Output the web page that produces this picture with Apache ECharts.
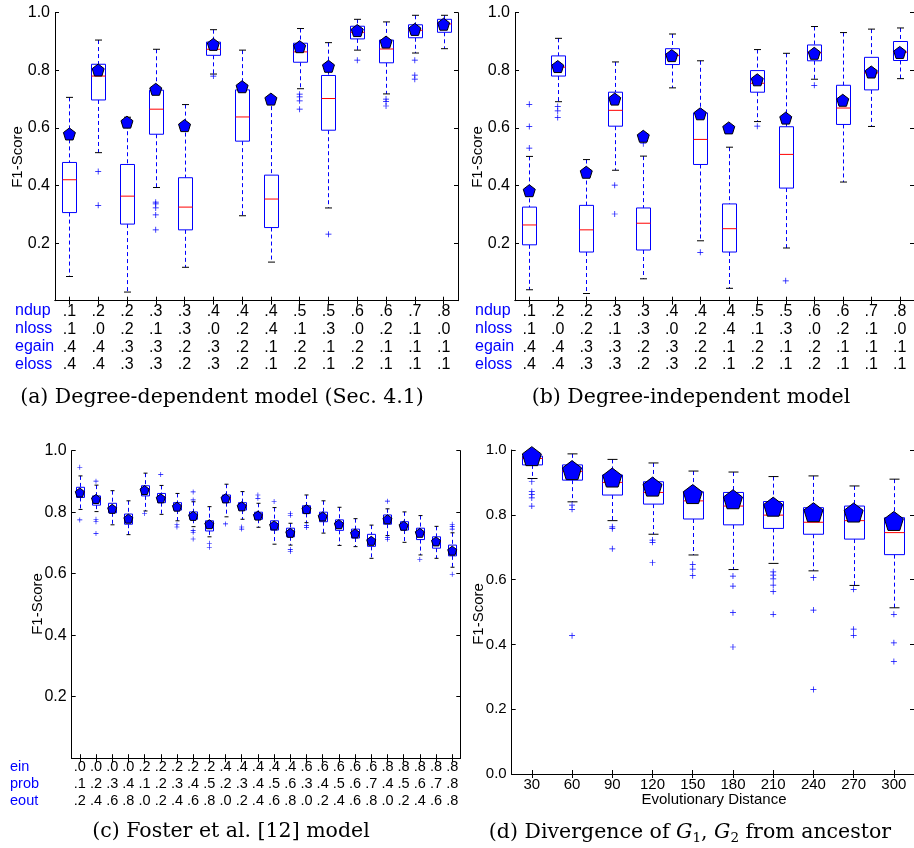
<!DOCTYPE html>
<html><head><meta charset="utf-8">
<script src="https://cdn.jsdelivr.net/npm/echarts@6/dist/echarts.min.js"></script>
<style>html,body{margin:0;padding:0;background:#fff}#c{width:914px;height:848px}</style>
</head><body><div id="c"></div><script>
// ---------- Panel (a): degree-dependent model ----------
const aNdup  = ['.1','.2','.2','.3','.3','.4','.4','.4','.5','.5','.6','.6','.7','.8'];
const aNloss = ['.1','.0','.2','.1','.3','.0','.2','.4','.1','.3','.0','.2','.1','.0'];
const aEgain = ['.4','.4','.3','.3','.2','.3','.2','.1','.2','.1','.2','.1','.1','.1'];
const aEloss = ['.4','.4','.3','.3','.2','.3','.2','.1','.2','.1','.2','.1','.1','.1'];
const aLow  = [0.084,0.514,0.030,0.393,0.116,0.787,0.295,0.134,0.736,0.322,0.870,0.718,0.860,0.875];
const aQ1   = [0.306,0.697,0.266,0.578,0.246,0.852,0.554,0.254,0.828,0.592,0.909,0.826,0.913,0.932];
const aMed  = [0.420,0.780,0.363,0.665,0.325,0.873,0.638,0.353,0.864,0.702,0.932,0.874,0.939,0.961];
const aQ3   = [0.480,0.821,0.473,0.731,0.427,0.898,0.732,0.436,0.894,0.782,0.953,0.905,0.958,0.977];
const aHigh = [0.706,0.905,0.637,0.873,0.681,0.941,0.870,0.700,0.945,0.896,0.977,0.968,0.991,0.991];
const aMark = [0.579,0.801,0.620,0.734,0.608,0.890,0.743,0.700,0.882,0.814,0.938,0.898,0.942,0.960];
const aOut  = [[1,0.449],[1,0.331],[3,0.342],[3,0.336],[3,0.322],[3,0.298],[3,0.246],[5,0.780],
               [8,0.717],[8,0.708],[8,0.694],[8,0.665],[9,0.231],[10,0.835],[11,0.700],[11,0.691],
               [11,0.676],[12,0.835],[12,0.783],[12,0.769]];

// ---------- Panel (b): degree-independent model ----------
const bLow  = [0.038,0.691,0.025,0.453,0.076,0.739,0.208,0.043,0.622,0.183,0.769,0.412,0.605,0.771];
const bQ1   = [0.194,0.780,0.169,0.606,0.176,0.820,0.473,0.169,0.724,0.391,0.833,0.612,0.732,0.834];
const bMed  = [0.263,0.811,0.246,0.661,0.269,0.851,0.560,0.250,0.755,0.508,0.861,0.669,0.791,0.863];
const bQ3   = [0.325,0.850,0.331,0.724,0.322,0.875,0.652,0.336,0.799,0.604,0.888,0.748,0.845,0.900];
const bHigh = [0.501,0.911,0.490,0.829,0.502,0.926,0.833,0.533,0.872,0.859,0.952,0.931,0.943,0.947];
const bMark = [0.382,0.813,0.446,0.700,0.571,0.851,0.649,0.600,0.767,0.634,0.859,0.696,0.794,0.862];
const bOut  = [[0,0.682],[0,0.605],[0,0.530],[1,0.674],[1,0.659],[1,0.636],[3,0.401],[3,0.301],
               [4,0.545],[6,0.168],[8,0.606],[9,0.069],[10,0.748]];

// ---------- Panel (c): Foster et al. model ----------
const cEin  = ['.0','.0','.0','.0','.2','.2','.2','.2','.2','.4','.4','.4','.4','.4','.6','.6','.6','.6','.6','.8','.8','.8','.8','.8'];
const cProb = ['.1','.2','.3','.4','.1','.2','.3','.4','.5','.2','.3','.4','.5','.6','.3','.4','.5','.6','.7','.4','.5','.6','.7','.8'];
const cEout = ['.2','.4','.6','.8','.0','.2','.4','.6','.8','.0','.2','.4','.6','.8','.0','.2','.4','.6','.8','.0','.2','.4','.6','.8'];
const cLow  = [0.809,0.802,0.759,0.727,0.804,0.793,0.772,0.753,0.720,0.785,0.777,0.751,0.696,0.693,0.766,0.732,0.692,0.688,0.650,0.724,0.702,0.661,0.650,0.621];
const cQ1   = [0.848,0.823,0.798,0.761,0.853,0.831,0.807,0.777,0.739,0.831,0.807,0.777,0.742,0.720,0.796,0.769,0.741,0.716,0.689,0.761,0.742,0.711,0.683,0.658];
const cMed  = [0.866,0.842,0.809,0.779,0.872,0.849,0.820,0.788,0.761,0.845,0.819,0.788,0.758,0.735,0.809,0.787,0.761,0.732,0.706,0.779,0.756,0.732,0.704,0.675];
const cQ3   = [0.881,0.853,0.829,0.794,0.886,0.861,0.831,0.801,0.772,0.856,0.831,0.800,0.772,0.748,0.821,0.800,0.775,0.745,0.728,0.791,0.769,0.748,0.720,0.693];
const cHigh = [0.918,0.888,0.870,0.837,0.927,0.887,0.861,0.834,0.818,0.891,0.867,0.829,0.815,0.764,0.856,0.837,0.816,0.779,0.758,0.811,0.801,0.789,0.754,0.733];
const cMark = [0.864,0.843,0.811,0.779,0.872,0.845,0.818,0.788,0.761,0.845,0.819,0.789,0.757,0.733,0.810,0.786,0.761,0.731,0.707,0.777,0.756,0.733,0.705,0.675];
const cOut  = [[0,0.946],[0,0.775],[1,0.901],[1,0.777],[1,0.769],[1,0.731],[4,0.796],[5,0.923],
               [6,0.759],[6,0.752],[7,0.866],[7,0.840],[7,0.740],[7,0.735],[7,0.713],[8,0.699],
               [8,0.686],[9,0.762],[10,0.752],[10,0.745],[11,0.856],[11,0.845],[12,0.835],[13,0.796],
               [13,0.790],[13,0.679],[13,0.672],[14,0.757],[14,0.750],[19,0.836],[19,0.718],[19,0.712],
               [21,0.646],[23,0.761],[23,0.753],[23,0.745],[23,0.598]];

// ---------- Panel (d): divergence from ancestor ----------
const dDist = ['30','60','90','120','150','180','210','240','270','300'];
const dLow  = [0.912,0.840,0.782,0.740,0.676,0.631,0.650,0.627,0.582,0.513];
const dQ1   = [0.954,0.907,0.861,0.833,0.787,0.769,0.758,0.740,0.725,0.677];
const dMed  = [0.974,0.934,0.900,0.869,0.843,0.827,0.799,0.777,0.782,0.745];
const dQ3   = [0.981,0.954,0.923,0.902,0.871,0.869,0.841,0.822,0.827,0.791];
const dHigh = [0.995,0.988,0.971,0.960,0.935,0.932,0.918,0.920,0.889,0.910];
const dMark = [0.981,0.938,0.915,0.887,0.864,0.848,0.825,0.808,0.807,0.781];
const dOut  = [[0,0.902],[0,0.872],[0,0.862],[0,0.852],[0,0.827],[1,0.830],[1,0.817],[1,0.427],
               [2,0.763],[2,0.757],[2,0.695],[3,0.722],[3,0.715],[3,0.652],[4,0.647],[4,0.632],
               [4,0.612],[5,0.611],[5,0.580],[5,0.498],[5,0.392],[6,0.624],[6,0.614],[6,0.602],
               [6,0.583],[6,0.563],[6,0.493],[7,0.606],[7,0.506],[7,0.261],[8,0.570],[8,0.447],
               [8,0.428],[9,0.493],[9,0.405],[9,0.347]];

// ---------- rendering ----------
const SANS = 'Liberation Sans, Arial, Helvetica, sans-serif';
const SERIF = 'DejaVu Serif, serif';
const BLUE = '#0000ff';
const PENT = 'path://M50,0L97.55,34.55L79.39,90.45L20.61,90.45L2.45,34.55Z';
const PLUS = 'path://M4.4,0H5.6V4.4H10V5.6H5.6V10H4.4V5.6H0V4.4H4.4Z';

const boxData = (lo,q1,md,q3,hi) => lo.map((v,i)=>[i,lo[i],q1[i],md[i],q3[i],hi[i]]);
const markData = m => m.map((v,i)=>[i,v]);

function renderBox(bw, cw){
  return function(params, api){
    const i = api.value(0);
    const pLo = api.coord([i, api.value(1)]);
    const pQ1 = api.coord([i, api.value(2)]);
    const pMd = api.coord([i, api.value(3)]);
    const pQ3 = api.coord([i, api.value(4)]);
    const pHi = api.coord([i, api.value(5)]);
    const x = Math.round(pLo[0]) + 0.5;
    const dash = {stroke: BLUE, lineWidth: 1, lineDash: [4,3], fill: null};
    const blk = {stroke: '#000', lineWidth: 1};
    return {type:'group', children:[
      {type:'line', shape:{x1:x,y1:pHi[1],x2:x,y2:pQ3[1]}, style:dash},
      {type:'line', shape:{x1:x,y1:pQ1[1],x2:x,y2:pLo[1]}, style:dash},
      {type:'line', shape:{x1:x-cw/2,y1:pHi[1],x2:x+cw/2,y2:pHi[1]}, style:blk},
      {type:'line', shape:{x1:x-cw/2,y1:pLo[1],x2:x+cw/2,y2:pLo[1]}, style:blk},
      {type:'rect', shape:{x:x-bw/2,y:pQ3[1],width:bw,height:pQ1[1]-pQ3[1]}, style:{fill:'#fff',stroke:BLUE,lineWidth:1}},
      {type:'line', shape:{x1:x-bw/2,y1:pMd[1],x2:x+bw/2,y2:pMd[1]}, style:{stroke:'#ff0000',lineWidth:1}}
    ]};
  };
}

function xAxes(gi, cats, label){
  const common = {type:'category', gridIndex:gi, data:cats, boundaryGap:true,
    axisLine:{show:true, lineStyle:{color:'#000', width:1}},
    axisTick:{show:true, inside:true, length:4, alignWithLabel:true, lineStyle:{color:'#000'}},
    splitLine:{show:false}};
  return [
    Object.assign({}, common, {position:'bottom', axisLabel:Object.assign({interval:0, color:'#000', fontFamily:SANS}, label)}),
    Object.assign({}, common, {position:'top', axisLabel:{show:false}})
  ];
}
function yAxes(gi, showZero, fs){
  const common = {type:'value', gridIndex:gi, min:0, max:1, interval:0.2,
    axisLine:{show:true, lineStyle:{color:'#000', width:1}},
    axisTick:{show:true, inside:true, length:4, lineStyle:{color:'#000'}},
    splitLine:{show:false}};
  return [
    Object.assign({}, common, {position:'left', axisLabel:{color:'#000', fontFamily:SANS, fontSize:fs, margin:5,
      formatter: v => (v === 0 && !showZero) ? '' : v.toFixed(1)}}),
    Object.assign({}, common, {position:'right', axisLabel:{show:false}})
  ];
}
function panelSeries(gi, box, mark, out, bw, cw, ps, plus){
  const xi = gi*2, yi = gi*2;
  return [
    {type:'custom', xAxisIndex:xi, yAxisIndex:yi, data:box, renderItem:renderBox(bw,cw),
     encode:{x:0, y:[1,2,3,4,5]}, clip:false, silent:true, z:2},
    {type:'scatter', xAxisIndex:xi, yAxisIndex:yi, data:out, symbol:PLUS, symbolSize:plus,
     itemStyle:{color:BLUE, opacity:1}, silent:true, z:3},
    {type:'scatter', xAxisIndex:xi, yAxisIndex:yi, data:mark, symbol:PENT, symbolSize:ps,
     itemStyle:{color:BLUE, opacity:1, borderColor:'#000', borderWidth:1}, silent:true, z:4}
  ];
}

const abCats = aNdup.map((v,i)=>[aNdup[i],aNloss[i],aEgain[i],aEloss[i]].join('\n'));
const cCats = cEin.map((v,i)=>[cEin[i],cProb[i],cEout[i]].join('\n'));

const abLabel = {fontSize:16, lineHeight:17.8, margin:2};
const option = {
  backgroundColor:'#fff',
  animation:false,
  grid:[
    {left:55, top:12.7, width:403, height:288},
    {left:515, top:12.7, width:405, height:288},
    {left:71.7, top:450.7, width:388.6, height:307.5},
    {left:511.7, top:450, width:405, height:324}
  ],
  xAxis:[].concat(
    xAxes(0, abCats, abLabel),
    xAxes(1, abCats, abLabel),
    xAxes(2, cCats, {fontSize:14.5, lineHeight:17, margin:0}),
    xAxes(3, dDist, {fontSize:15, margin:3})
  ),
  yAxis:[].concat(yAxes(0,false,16), yAxes(1,false,16), yAxes(2,false,16), yAxes(3,true,15)),
  series:[].concat(
    panelSeries(0, boxData(aLow,aQ1,aMed,aQ3,aHigh), markData(aMark), aOut, 14, 7, 12, 6),
    panelSeries(1, boxData(bLow,bQ1,bMed,bQ3,bHigh), markData(bMark), bOut, 14, 7, 12, 6),
    panelSeries(2, boxData(cLow,cQ1,cMed,cQ3,cHigh), markData(cMark), cOut, 8, 4, 9, 5),
    panelSeries(3, boxData(dLow,dQ1,dMed,dQ3,dHigh), markData(dMark), dOut, 20, 10, 19, 6)
  ),
  graphic:[]
};

function txt(x, y, s, o){
  return Object.assign({type:'text', x:x, y:y, silent:true,
    style:Object.assign({text:s, fill:'#000', font:'15px '+SANS, textAlign:'left', textVerticalAlign:'middle'}, o||{})});
}
const g = option.graphic;
// row names for (a) and (b)
['ndup','nloss','egain','eloss'].forEach((s,k)=>{
  g.push(txt(15, 310.7+k*17.8, s, {fill:BLUE, font:'16px '+SANS}));
  g.push(txt(475, 310.7+k*17.8, s, {fill:BLUE, font:'16px '+SANS}));
});
['ein','prob','eout'].forEach((s,k)=>{
  g.push(txt(10, 767+k*17, s, {fill:BLUE, font:'14.5px '+SANS}));
});
// y axis titles
[[18,157],[478,157],[38,604],[479,614]].forEach(p=>{
  const t = txt(p[0], p[1], 'F1-Score', {textAlign:'center', font:'15px '+SANS});
  t.rotation = Math.PI/2;
  g.push(t);
});
// x axis title (d)
g.push(txt(714, 800, 'Evolutionary Distance', {textAlign:'center', font:'15px '+SANS}));
// captions
const CAP = '20.5px ' + SERIF;
g.push(txt(222, 398, '(a) Degree-dependent model (Sec. 4.1)', {textAlign:'center', font:CAP}));
g.push(txt(691, 398, '(b) Degree-independent model', {textAlign:'center', font:CAP}));
g.push(txt(231, 832, '(c) Foster et al. [12] model', {textAlign:'center', font:CAP}));
g.push({type:'text', x:690, y:833, silent:true, style:{
  text:'(d) Divergence of {i|G}{s|1}, {i|G}{s|2} from ancestor',
  font:CAP, fill:'#000', textAlign:'center', textVerticalAlign:'middle',
  rich:{i:{fontStyle:'italic', fontFamily:SERIF, fontSize:20.5}, s:{fontFamily:SERIF, fontSize:13.5, padding:[10,0,0,0]}}
}});

const chart = echarts.init(document.getElementById('c'), null, {renderer:'canvas'});
chart.setOption(option);
</script></body></html>
